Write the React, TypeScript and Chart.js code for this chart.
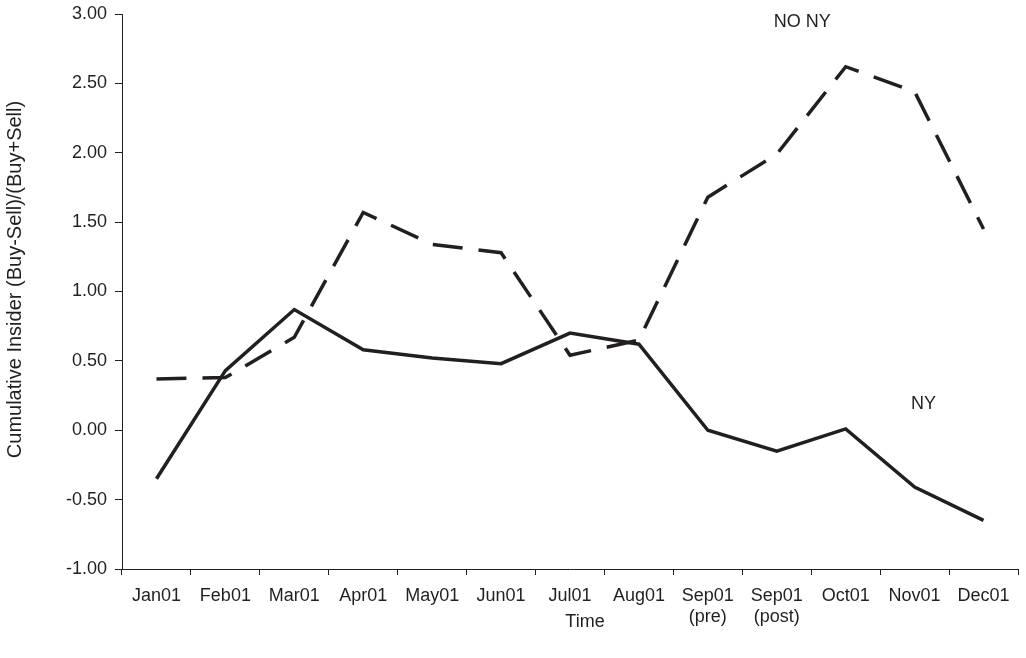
import React, { useEffect, useRef } from "react";
import { Chart, registerables } from "chart.js";

Chart.register(...registerables);

const categories: (string | string[])[] = [
  "Jan01", "Feb01", "Mar01", "Apr01", "May01", "Jun01", "Jul01", "Aug01",
  ["Sep01", "(pre)"], ["Sep01", "(post)"], "Oct01", "Nov01", "Dec01",
];

const nySeries = [-0.35, 0.43, 0.87, 0.58, 0.52, 0.48, 0.7, 0.62, 0.0, -0.15, 0.01, -0.41, -0.65];
const noNySeries = [0.37, 0.38, 0.67, 1.57, 1.34, 1.28, 0.54, 0.65, 1.68, 1.99, 2.62, 2.44, 1.45];

const yMin = -1;
const yMax = 3;
const yStep = 0.5;

const xTitle = "Time";
const yTitle = "Cumulative Insider (Buy-Sell)/(Buy+Sell)";

const annotations = [
  { text: "NO NY", xIndex: 9.37, y: 2.944 },
  { text: "NY", xIndex: 11.13, y: 0.19 },
];

const INK = "#231f20";
const FONT = "'Liberation Sans', Arial, sans-serif";

const labelPlugin = {
  id: "seriesLabels",
  afterDatasetsDraw(chart: any) {
    const { ctx, scales, chartArea } = chart;
    ctx.save();
    ctx.fillStyle = INK;
    ctx.font = `18px ${FONT}`;
    ctx.textAlign = "center";
    ctx.textBaseline = "middle";
    for (const a of annotations) {
      const x = scales.x.getPixelForValue(a.xIndex);
      const y = scales.y.getPixelForValue(a.y);
      ctx.fillText(a.text, x, y);
    }
    // axis titles
    ctx.fillText(xTitle, (chartArea.left + chartArea.right) / 2 + 15, 622);
    ctx.save();
    ctx.translate(15, (chartArea.top + chartArea.bottom) / 2 - 12);
    ctx.rotate(-Math.PI / 2);
    ctx.font = `20px ${FONT}`;
    ctx.fillText(yTitle, 0, 0);
    ctx.restore();
    ctx.restore();
  },
};

export default function App() {
  const canvasRef = useRef<HTMLCanvasElement | null>(null);

  useEffect(() => {
    document.body.style.margin = "0";
    const canvas = canvasRef.current;
    if (!canvas) return;
    const chart = new Chart(canvas, {
      type: "line",
      data: {
        labels: categories,
        datasets: [
          {
            label: "NO NY",
            data: noNySeries,
            borderColor: INK,
            borderWidth: 3.5,
            borderDash: [30, 16],
            borderCapStyle: "butt",
            pointRadius: 0,
            tension: 0,
            fill: false,
          },
          {
            label: "NY",
            data: nySeries,
            borderColor: INK,
            borderWidth: 3.5,
            pointRadius: 0,
            tension: 0,
            fill: false,
          },
        ],
      },
      options: {
        animation: false,
        responsive: false,
        maintainAspectRatio: false,
        layout: { padding: { top: 14, right: 8, left: 0, bottom: 0 } },
        plugins: {
          legend: { display: false },
          tooltip: { enabled: false },
        },
        scales: {
          x: {
            type: "category",
            offset: true,
            grid: {
              display: true,
              drawOnChartArea: false,
              drawTicks: true,
              tickLength: 6,
              offset: true,
              color: INK,
            },
            border: { display: true, color: INK, width: 1 },
            ticks: {
              color: INK,
              font: { family: FONT, size: 18 },
              padding: 10,
              maxRotation: 0,
              autoSkip: false,
            },
            title: { display: false, text: xTitle },
            afterFit(scale: any) {
              scale.height = 89;
              scale.paddingLeft = 0;
              scale.paddingRight = 0;
            },
          },
          y: {
            min: yMin,
            max: yMax,
            grid: {
              display: true,
              drawOnChartArea: false,
              drawTicks: true,
              tickLength: 7,
              color: INK,
            },
            border: { display: true, color: INK, width: 1 },
            ticks: {
              stepSize: yStep,
              color: INK,
              font: { family: FONT, size: 18 },
              padding: 8,
              callback: (v: any) => Number(v).toFixed(2),
            },
            title: { display: false, text: yTitle },
            afterFit(scale: any) {
              scale.width = 122;
              scale.paddingTop = 0;
              scale.paddingBottom = 0;
            },
          },
        },
      },
      plugins: [labelPlugin],
    });
    return () => chart.destroy();
  }, []);

  return (
    <div style={{ width: 1026, height: 658, background: "#fff" }}>
      <canvas ref={canvasRef} width={1026} height={658} style={{ display: "block" }} />
    </div>
  );
}
